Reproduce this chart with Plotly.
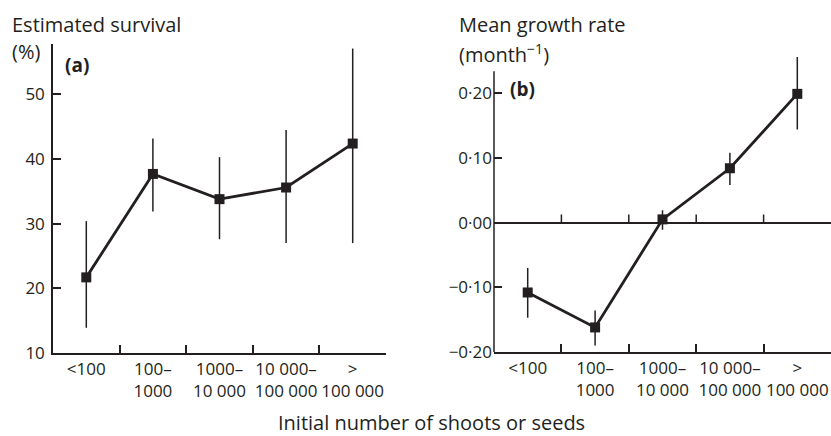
import plotly.graph_objects as go

W, H = 831, 436

categories = ["<100", "100–<br>1000", "1000–<br>10 000", "10 000–<br>100 000", "><br>100 000"]

survival = [21.7, 37.7, 33.8, 35.6, 42.4]
survival_hi = [30.4, 43.2, 40.3, 44.5, 57.1]
survival_lo = [13.9, 31.9, 27.6, 27.0, 27.0]

growth = [-0.108, -0.162, 0.005, 0.084, 0.199]
growth_hi = [-0.070, -0.136, 0.019, 0.108, 0.256]
growth_lo = [-0.147, -0.190, -0.011, 0.058, 0.144]

surv_ticks = [10, 20, 30, 40, 50]
growth_ticks = [-0.2, -0.1, 0.0, 0.1, 0.2]
growth_ticktext = ["−0·20", "−0·10", "0·00", "0·10", "0·20"]

INK = "#231f20"
FONT = "Open Sans"
TICK_SIZE = 17
TITLE_SIZE = 20


def px_x(p):
    return p / W


def px_y(p):
    return (H - p) / H


fig = go.Figure()

fig.add_trace(go.Scatter(
    x=categories, y=survival, xaxis="x", yaxis="y",
    mode="lines+markers",
    line=dict(color=INK, width=2.8),
    marker=dict(symbol="square", size=10, color=INK),
    error_y=dict(type="data", symmetric=False,
                 array=[h - v for h, v in zip(survival_hi, survival)],
                 arrayminus=[v - l for v, l in zip(survival, survival_lo)],
                 color=INK, thickness=1.5, width=0),
    showlegend=False, cliponaxis=False,
))

fig.add_trace(go.Scatter(
    x=categories, y=growth, xaxis="x2", yaxis="y2",
    mode="lines+markers",
    line=dict(color=INK, width=2.8),
    marker=dict(symbol="square", size=10, color=INK),
    error_y=dict(type="data", symmetric=False,
                 array=[h - v for h, v in zip(growth_hi, growth)],
                 arrayminus=[v - l for v, l in zip(growth, growth_lo)],
                 color=INK, thickness=1.5, width=0),
    showlegend=False, cliponaxis=False,
))

xcommon = dict(type="category", categoryorder="array", categoryarray=categories,
               range=[-0.5, 4.5], tickson="boundaries", ticks="inside", ticklen=8,
               tickwidth=1.5, tickcolor=INK, showline=True, linecolor=INK, linewidth=1.5,
               showgrid=False, zeroline=False, automargin=False, tickangle=0,
               tickfont=dict(family=FONT, size=TICK_SIZE, color=INK))

fig.update_layout(
    width=W, height=H,
    margin=dict(l=0, r=0, t=0, b=0),
    paper_bgcolor="white", plot_bgcolor="white",
    font=dict(family=FONT, color=INK),
    xaxis=dict(domain=[px_x(53), px_x(386)], anchor="y", **xcommon),
    yaxis=dict(domain=[px_y(353), px_y(44)], anchor="x", range=[10, 57.8],
               tickvals=surv_ticks, ticks="inside", ticklen=8, tickwidth=1.5,
               tickcolor=INK, showline=True, linecolor=INK, linewidth=1.5,
               showgrid=False, zeroline=False, automargin=False,
               ticklabelstandoff=3,
               tickfont=dict(family=FONT, size=TICK_SIZE, color=INK)),
    xaxis2=dict(domain=[px_x(494), px_x(831)], anchor="y2", **xcommon),
    yaxis2=dict(domain=[px_y(352), px_y(54.4)], anchor="x2", range=[-0.2, 0.26],
                tickvals=growth_ticks, ticktext=growth_ticktext,
                ticks="inside", ticklen=8, tickwidth=1.5, tickcolor=INK,
                showline=False, showgrid=False, automargin=False,
                zeroline=True, zerolinecolor=INK, zerolinewidth=1.5,
                ticklabelstandoff=1,
                tickfont=dict(family=FONT, size=TICK_SIZE, color=INK)),
)

# y-axis line of panel (b), stopping below the top error bar
fig.add_shape(type="line", xref="x2 domain", yref="y2", x0=0, x1=0, y0=-0.2, y1=0.234,
              line=dict(color=INK, width=1.5))
# ticks on the zero line of panel (b)
for b in [0.5, 1.5, 2.5, 3.5]:
    fig.add_shape(type="line", xref="x2", yref="y2", x0=b, x1=b, y0=0, y1=0.0124,
                  line=dict(color=INK, width=1.5))

ann = [
    dict(text="Estimated survival", x=px_x(10), y=px_y(24), size=TITLE_SIZE),
    dict(text="(%)", x=px_x(10), y=px_y(52), size=TITLE_SIZE),
    dict(text="<b>(a)</b>", x=px_x(63), y=px_y(65), size=TITLE_SIZE - 1),
    dict(text="Mean growth rate", x=px_x(457), y=px_y(24), size=TITLE_SIZE),
    dict(text="(month<sup>−1</sup>)", x=px_x(457), y=px_y(53), size=TITLE_SIZE),
    dict(text="<b>(b)</b>", x=px_x(508), y=px_y(89), size=TITLE_SIZE - 1),
    dict(text="Initial number of shoots or seeds", x=px_x(276), y=px_y(422), size=TITLE_SIZE),
]
for a in ann:
    fig.add_annotation(text=a["text"], x=a["x"], y=a["y"], xref="paper", yref="paper",
                       xanchor="left", yanchor="middle", showarrow=False,
                       font=dict(family=FONT, size=a["size"], color=INK))

fig.write_html("out.html", config={"displayModeBar": False},
               post_script="document.body.style.margin='0';")
